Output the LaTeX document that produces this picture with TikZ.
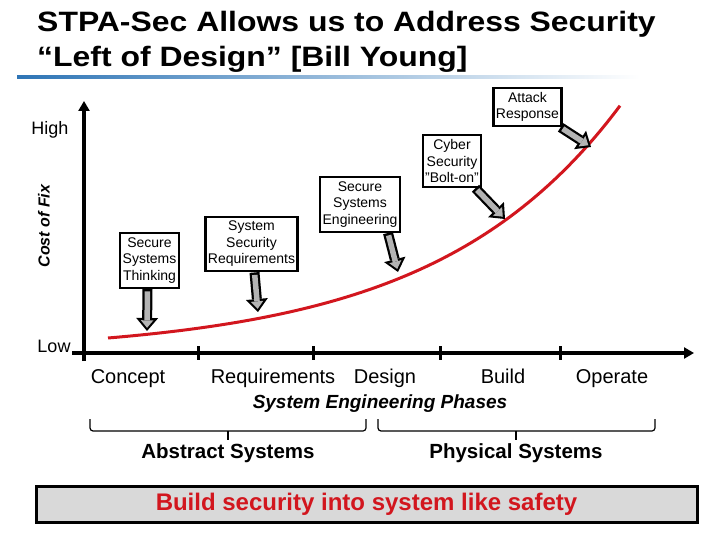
\documentclass[tikz,border=0pt]{standalone}
\usepackage{fontspec}
\setmainfont{Liberation Sans}
\usetikzlibrary{arrows.meta}
\definecolor{curvered}{HTML}{D2161E}
\definecolor{titleblue}{HTML}{2E75B6}
\definecolor{boxgray}{HTML}{D9D9D9}
\definecolor{arrowgray}{HTML}{B4B4B4}

\begin{document}
\begin{tikzpicture}[
  x=1pt, y=-1pt,
  stage/.style={rectangle, draw, line width=2.2pt, inner xsep=2.5pt, inner ysep=4.5pt, align=center, font=\fontsize{14}{16.5}\selectfont},
  fatarrow/.style={draw=black, line width=10pt, -{Triangle[length=13pt,width=22pt,line width=0pt]},
    postaction={draw=arrowgray, line width=5.5pt, -{Triangle[length=7.5pt,width=12.5pt,line width=0pt]}, shorten >=3.2pt, shorten <=2.5pt}},
  axis/.style={line width=3.5pt, -{Triangle[length=10pt,width=11pt]}},
  phase/.style={anchor=base, font=\fontsize{20}{24}\selectfont},
  font=\fontsize{14}{16.5}\selectfont
]
\useasboundingbox (0,0) rectangle (720,540);

% Title
\node[anchor=base west, xscale=1.14, font=\bfseries\fontsize{28}{32}\selectfont, inner sep=0pt] (title1) at (37,32) {STPA-Sec Allows us to Address Security};
\node[anchor=base west, xscale=1.14, font=\bfseries\fontsize{28}{32}\selectfont, inner sep=0pt] (title2) at (37,67) {“Left of Design” [Bill Young]};
\shade[left color=titleblue, middle color=titleblue!45, right color=white] (17,75.5) rectangle (640,78.5);

% Axes
\coordinate (ybot) at (84,361);
\coordinate (ytop) at (84,101);
\coordinate (xleft) at (72,353);
\coordinate (xright) at (694,353);
\draw[axis] (ybot) -- (ytop);
\draw[axis] (xleft) -- (xright);
\foreach \x in {198,313,440,560}
  \draw[line width=3pt] (\x,346) -- (\x,360);

\node[font=\fontsize{18}{20}\selectfont] (high) at (50,130) {High};
\node[font=\fontsize{18}{20}\selectfont] (low) at (54,346) {Low};
\node[rotate=90, font=\bfseries\itshape\fontsize{16}{18}\selectfont] (cost) at (44,226) {Cost of Fix};

% Phases
\node[phase] (concept) at (128,383) {Concept};
\node[phase] (reqs) at (273,383) {Requirements};
\node[phase] (design) at (385,383) {Design};
\node[phase] (build) at (503,383) {Build};
\node[phase] (operate) at (612,383) {Operate};
\node[font=\bfseries\itshape\fontsize{19}{22}\selectfont] (phases) at (380,404) {System Engineering Phases};

% Braces
\foreach \l/\m/\r in {90/228/366, 378/516/655} {
  \draw[line width=1.2pt, rounded corners=3pt] (\l,419) -- (\l,431) -- (\r,431) -- (\r,419);
  \draw[line width=1.2pt] (\m,431) -- (\m,440);
}
\node[font=\bfseries\fontsize{20.5}{24}\selectfont] (abstract) at (228,453) {Abstract Systems};
\node[font=\bfseries\fontsize{20.5}{24}\selectfont] (physical) at (516,453) {Physical Systems};

% Cost curve
\draw[curvered, line width=3pt] plot[domain=108:620, samples=80] (\x, {338-15.6*(exp(0.0054*(\x-108))-1)});
\coordinate (hit1) at (147,331);
\coordinate (hit2) at (258,312);
\coordinate (hit3) at (398,272);
\coordinate (hit4) at (505,219);
\coordinate (hit5) at (591,147);

% Stages
\node[stage] (thinking) at (149.5,260.5) {Secure\\Systems\\Thinking};
\node[stage] (secreq) at (251.5,244) {System\\Security\\Requirements};
\node[stage] (eng) at (360,204.5) {Secure\\Systems\\Engineering};
\node[stage] (cyber) at (452,161) {Cyber\\Security\\"Bolt-on"};
\node[stage] (attack) at (527.5,107) {Attack\\Response};

% Arrows
\draw[fatarrow] ([xshift=-2pt]thinking.south) -- (hit1);
\draw[fatarrow] ([xshift=3pt]secreq.south) -- (hit2);
\draw[fatarrow] ([xshift=-13pt]eng.south east) -- (hit3);
\draw[fatarrow] ([xshift=-7pt]cyber.south east) -- (hit4);
\draw[fatarrow] ([xshift=-2pt]attack.south east) -- (hit5);

% Message
\node[draw, line width=3pt, fill=boxgray, minimum width=661pt, minimum height=36pt, text=curvered, font=\bfseries\fontsize{24}{28}\selectfont] (motto) at (366.5,504) {Build security into system like safety};
\end{tikzpicture}
\end{document}
